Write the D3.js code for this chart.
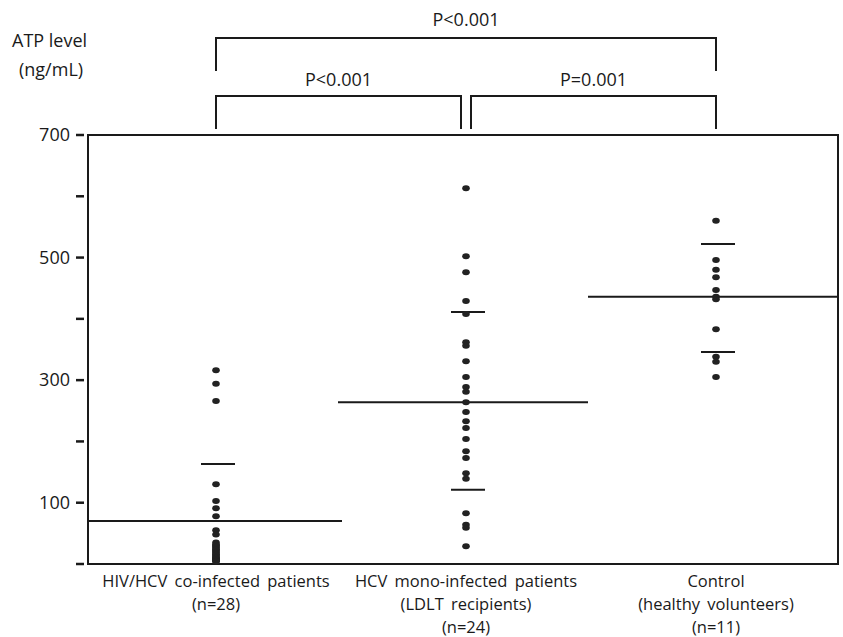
<!DOCTYPE html>
<meta charset="utf-8">
<body style="margin:0;background:#fff">
</body>
<script src="https://d3js.org/d3.v7.min.js"></script>
<script>

var width = 843, height = 637;
var box = {left: 88, right: 838, top: 135, bottom: 564};

// groups and labels
var groups = ["HIV/HCV", "HCV", "Control"];
var groupLabels = [
  ["HIV/HCV co-infected patients", "(n=28)"],
  ["HCV mono-infected patients", "(LDLT recipients)", "(n=24)"],
  ["Control", "(healthy volunteers)", "(n=11)"]
];

// ATP values (ng/mL)
var hivValues = [316, 294, 266, 130, 103, 91, 78, 55, 48, 35, 32, 30, 28, 26, 24, 22, 20,
  18, 16, 14, 12, 10, 9, 8, 7, 6, 5, 4];
var hcvValues = [613, 502, 476, 429, 408, 362, 356, 331, 305, 289, 281, 264, 248, 233,
  222, 204, 184, 173, 148, 139, 83, 64, 59, 29];
var controlValues = [560, 496, 480, 468, 447, 436, 432, 383, 338, 330, 305];
var allValues = [hivValues, hcvValues, controlValues];

// median and quartile markers
var medians = [70, 264, 436];
var quartiles = [[163], [411, 121], [522, 346]];

var yTicks = [0, 100, 200, 300, 400, 500, 600, 700];
var yLabels = [100, 300, 500, 700];

// comparisons: [from group, to group, label, level]
var comparisons = [
  [0, 2, "P<0.001", 0],
  [0, 1, "P<0.001", 1],
  [1, 2, "P=0.001", 1]
];

var font = "'Open Sans', sans-serif";
var ink = "#1a1a1a";

var svg = d3.select("body").append("svg")
  .attr("width", width)
  .attr("height", height);

var y = d3.scaleLinear()
  .domain([0, 700])
  .range([box.bottom, box.top]);

var x = d3.scaleBand()
  .domain(groups)
  .range([box.left, box.right])
  .padding(0);

function cx(i) { return x(groups[i]) + x.bandwidth() / 2; }

// frame
svg.append("rect")
  .attr("x", box.left)
  .attr("y", box.top)
  .attr("width", box.right - box.left)
  .attr("height", box.bottom - box.top)
  .attr("fill", "none")
  .attr("stroke", ink)
  .attr("stroke-width", 2);

// y ticks (detached from the axis line)
svg.append("g")
  .selectAll("line")
  .data(yTicks)
  .enter()
  .append("line")
  .attr("x1", 76)
  .attr("x2", 84)
  .attr("y1", function(d){ return y(d); })
  .attr("y2", function(d){ return y(d); })
  .attr("stroke", ink)
  .attr("stroke-width", 2.5);

svg.append("g")
  .selectAll("text")
  .data(yLabels)
  .enter()
  .append("text")
  .attr("x", 70)
  .attr("y", function(d){ return y(d); })
  .attr("dy", "0.35em")
  .attr("text-anchor", "end")
  .attr("font-family", font)
  .attr("font-size", 18)
  .attr("fill", ink)
  .text(function(d){ return d; });

// y axis title
svg.append("text")
  .attr("x", 12).attr("y", 47)
  .attr("font-family", font).attr("font-size", 18).attr("fill", ink)
  .text("ATP level");
svg.append("text")
  .attr("x", 19).attr("y", 76)
  .attr("font-family", font).attr("font-size", 18).attr("fill", ink)
  .text("(ng/mL)");

// median lines across each band
svg.append("g")
  .selectAll("line")
  .data(medians)
  .enter()
  .append("line")
  .attr("x1", function(d, i){ return x(groups[i]); })
  .attr("x2", function(d, i){ return x(groups[i]) + x.bandwidth() + (i == 0 ? 4 : 0); })
  .attr("y1", function(d){ return y(d); })
  .attr("y2", function(d){ return y(d); })
  .attr("stroke", ink)
  .attr("stroke-width", 2);

// quartile bars
var qData = [];
quartiles.forEach(function(q, i){ q.forEach(function(v){ qData.push({g: i, v: v}); }); });
svg.append("g")
  .selectAll("line")
  .data(qData)
  .enter()
  .append("line")
  .attr("x1", function(d){ return cx(d.g) - 12; })
  .attr("x2", function(d){ return cx(d.g) + 22; })
  .attr("y1", function(d){ return y(d.v); })
  .attr("y2", function(d){ return y(d.v); })
  .attr("stroke", ink)
  .attr("stroke-width", 2);

// dots
var dots = [];
allValues.forEach(function(vals, i){ vals.forEach(function(v){ dots.push({g: i, v: v}); }); });
svg.append("g")
  .selectAll("ellipse")
  .data(dots)
  .enter()
  .append("ellipse")
  .attr("cx", function(d){ return cx(d.g) + 3; })
  .attr("cy", function(d){ return y(d.v); })
  .attr("rx", 3.8)
  .attr("ry", 3)
  .attr("fill", "#222");

// x labels
groupLabels.forEach(function(lines, i){
  svg.append("g")
    .selectAll("text")
    .data(lines)
    .enter()
    .append("text")
    .attr("x", cx(i) + 3)
    .attr("y", function(d, k){ return 587 + k * 23; })
    .attr("text-anchor", "middle")
    .attr("font-family", font)
    .attr("font-size", 16.5)
    .attr("word-spacing", 3)
    .attr("fill", ink)
    .text(function(d){ return d; });
});

// significance brackets
var levelY = [38, 96];
var levelDrop = 33;
var textGap = [12, 10];
comparisons.forEach(function(c){
  var x1 = cx(c[0]) + 3, x2 = cx(c[1]) + 3;
  if (c[3] == 1 && c[1] == 1) x2 -= 5;
  if (c[3] == 1 && c[0] == 1) x1 += 5;
  var ly = levelY[c[3]];
  svg.append("path")
    .attr("d", "M" + x1 + "," + (ly + levelDrop) + "V" + ly + "H" + x2 + "V" + (ly + levelDrop))
    .attr("fill", "none")
    .attr("stroke", ink)
    .attr("stroke-width", 2);
  svg.append("text")
    .attr("x", (x1 + x2) / 2)
    .attr("y", ly - textGap[c[3]])
    .attr("text-anchor", "middle")
    .attr("font-family", font)
    .attr("font-size", 18)
    .attr("fill", ink)
    .text(c[2]);
});

</script>
